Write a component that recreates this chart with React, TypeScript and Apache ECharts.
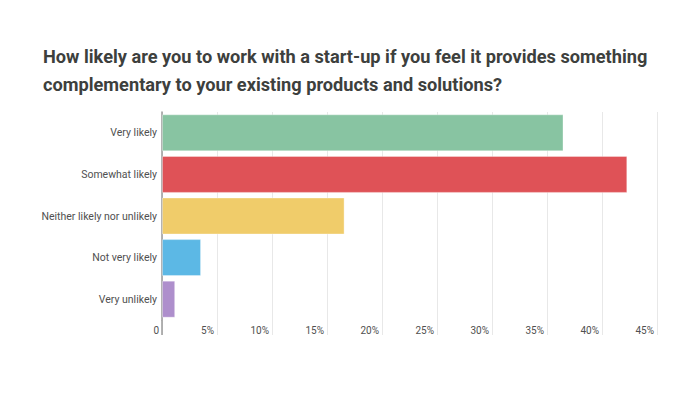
import React, { useEffect, useRef } from "react";
import * as echarts from "echarts";

const titleLines = [
  "How likely are you to work with a start-up if you feel it provides something",
  "complementary to your existing products and solutions?",
];
const categories = [
  "Very likely",
  "Somewhat likely",
  "Neither likely nor unlikely",
  "Not very likely",
  "Very unlikely",
];
const values = [36.5, 42.3, 16.6, 3.55, 1.2];
const colors = ["#88c4a2", "#df5257", "#f0cc6a", "#5cb8e5", "#ae8fcc"];
const xMin = 0;
const xMax = 45;
const xInterval = 5;

export default function App() {
  const ref = useRef<HTMLDivElement>(null);
  useEffect(() => {
    if (!ref.current) return;
    const chart = echarts.init(ref.current, null, { renderer: "svg" });
    const font = "Roboto, 'Noto Sans', sans-serif";
    chart.setOption({
      animation: false,
      backgroundColor: "#ffffff",
      title: {
        text: titleLines.join("\n"),
        left: 38,
        top: 37,
        textStyle: {
          fontFamily: font,
          fontSize: 18.2,
          fontWeight: "bold",
          color: "#3d403d",
          lineHeight: 28,
        },
      },
      grid: { left: 162, right: 43, top: 112, height: 208, containLabel: false },
      xAxis: [
        {
          type: "value",
          min: xMin,
          max: xMax,
          interval: xInterval,
          axisLine: { show: false },
          axisTick: { show: true, length: 15, lineStyle: { color: "#e8e8e8", width: 1 } },
          splitLine: { show: true, lineStyle: { color: "#e8e8e8", width: 1 } },
          axisLabel: {
            fontFamily: font,
            fontSize: 10,
            color: "#505050",
            margin: 5,
            align: "right",
            padding: [0, 3, 0, 0],
            formatter: (v: number) => (v === 0 ? "0" : v + "%"),
          },
        },
        {
          type: "value",
          min: xMin,
          max: xMax,
          interval: xInterval,
          position: "bottom",
          axisLine: { show: false },
          axisTick: {
            show: true,
            length: 15,
            customValues: [0],
            lineStyle: { color: "#9a9a9a", width: 1.5 },
          },
          splitLine: { show: false },
          axisLabel: { show: false },
        },
      ],
      yAxis: {
        type: "category",
        data: categories,
        inverse: true,
        axisLine: { show: true, lineStyle: { color: "#9a9a9a", width: 1.5 } },
        axisTick: { show: false },
        splitLine: { show: false },
        axisLabel: {
          fontFamily: font,
          fontSize: 10.5,
          color: "#505050",
          margin: 5,
        },
      },
      series: [
        {
          type: "bar",
          xAxisIndex: 0,
          data: values.map((v, i) => ({
            value: v,
            itemStyle: { color: colors[i] },
          })),
          barWidth: 37,
          itemStyle: { borderColor: "rgba(255,255,255,0.35)", borderWidth: 1 },
        },
      ],
    });
    return () => chart.dispose();
  }, []);
  return <div ref={ref} style={{ width: 700, height: 396, margin: -8 }} />;
}
